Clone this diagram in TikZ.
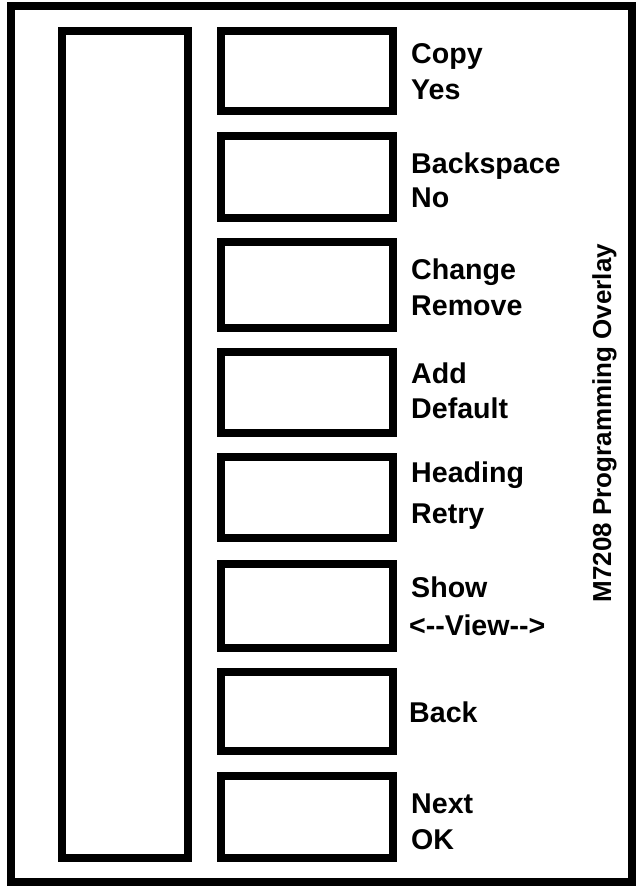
\documentclass[tikz,border=0pt]{standalone}
\usepackage{fontspec}
\setmainfont{Liberation Sans}
\begin{document}
\begin{tikzpicture}[x=1pt,y=-1pt,
  frame/.style={draw=black,line width=8pt},
  key/.style={draw=black,line width=8pt,inner sep=0pt,minimum width=172pt},
  lbl/.style={anchor=base west,inner sep=0pt,font=\fontsize{28.6}{34}\selectfont\bfseries},
  title/.style={anchor=base,inner sep=0pt,rotate=90,font=\fontsize{26}{30}\selectfont\bfseries}]
\useasboundingbox (0,0) rectangle (636,886);
\draw[frame] (11,6) rectangle (632,881.5);
\node[draw=black,line width=8pt,inner sep=0pt,minimum width=126pt,minimum height=827pt] (strip) at (125,444.5) {};
\node[key,minimum height=80pt] (k1) at (307,71) {};
\node[key,minimum height=82pt] (k2) at (307,177) {};
\node[key,minimum height=86pt] (k3) at (307,285) {};
\node[key,minimum height=81pt] (k4) at (307,392.5) {};
\node[key,minimum height=81pt] (k5) at (307,497.5) {};
\node[key,minimum height=84pt] (k6) at (307,606) {};
\node[key,minimum height=79pt] (k7) at (307,711.5) {};
\node[key,minimum height=82pt] (k8) at (307,817) {};
\node[lbl] (l1a) at (411,63) {Copy};
\node[lbl] (l1b) at (411,99) {Yes};
\node[lbl] (l2a) at (411,173) {Backspace};
\node[lbl] (l2b) at (411,207) {No};
\node[lbl] (l3a) at (411,279) {Change};
\node[lbl] (l3b) at (411,315) {Remove};
\node[lbl] (l4a) at (411,383) {Add};
\node[lbl] (l4b) at (411,418) {Default};
\node[lbl] (l5a) at (411,482) {Heading};
\node[lbl] (l5b) at (411,523) {Retry};
\node[lbl] (l6a) at (411,597) {Show};
\node[lbl] (l6b) at (409,635) {<{-}{-}View{-}{-}>};
\node[lbl] (l7a) at (409,722) {Back};
\node[lbl] (l8a) at (411,813) {Next};
\node[lbl] (l8b) at (411,849) {OK};
\node[title] (ttl) at (611,423) {M7208 Programming Overlay};
\end{tikzpicture}
\end{document}
